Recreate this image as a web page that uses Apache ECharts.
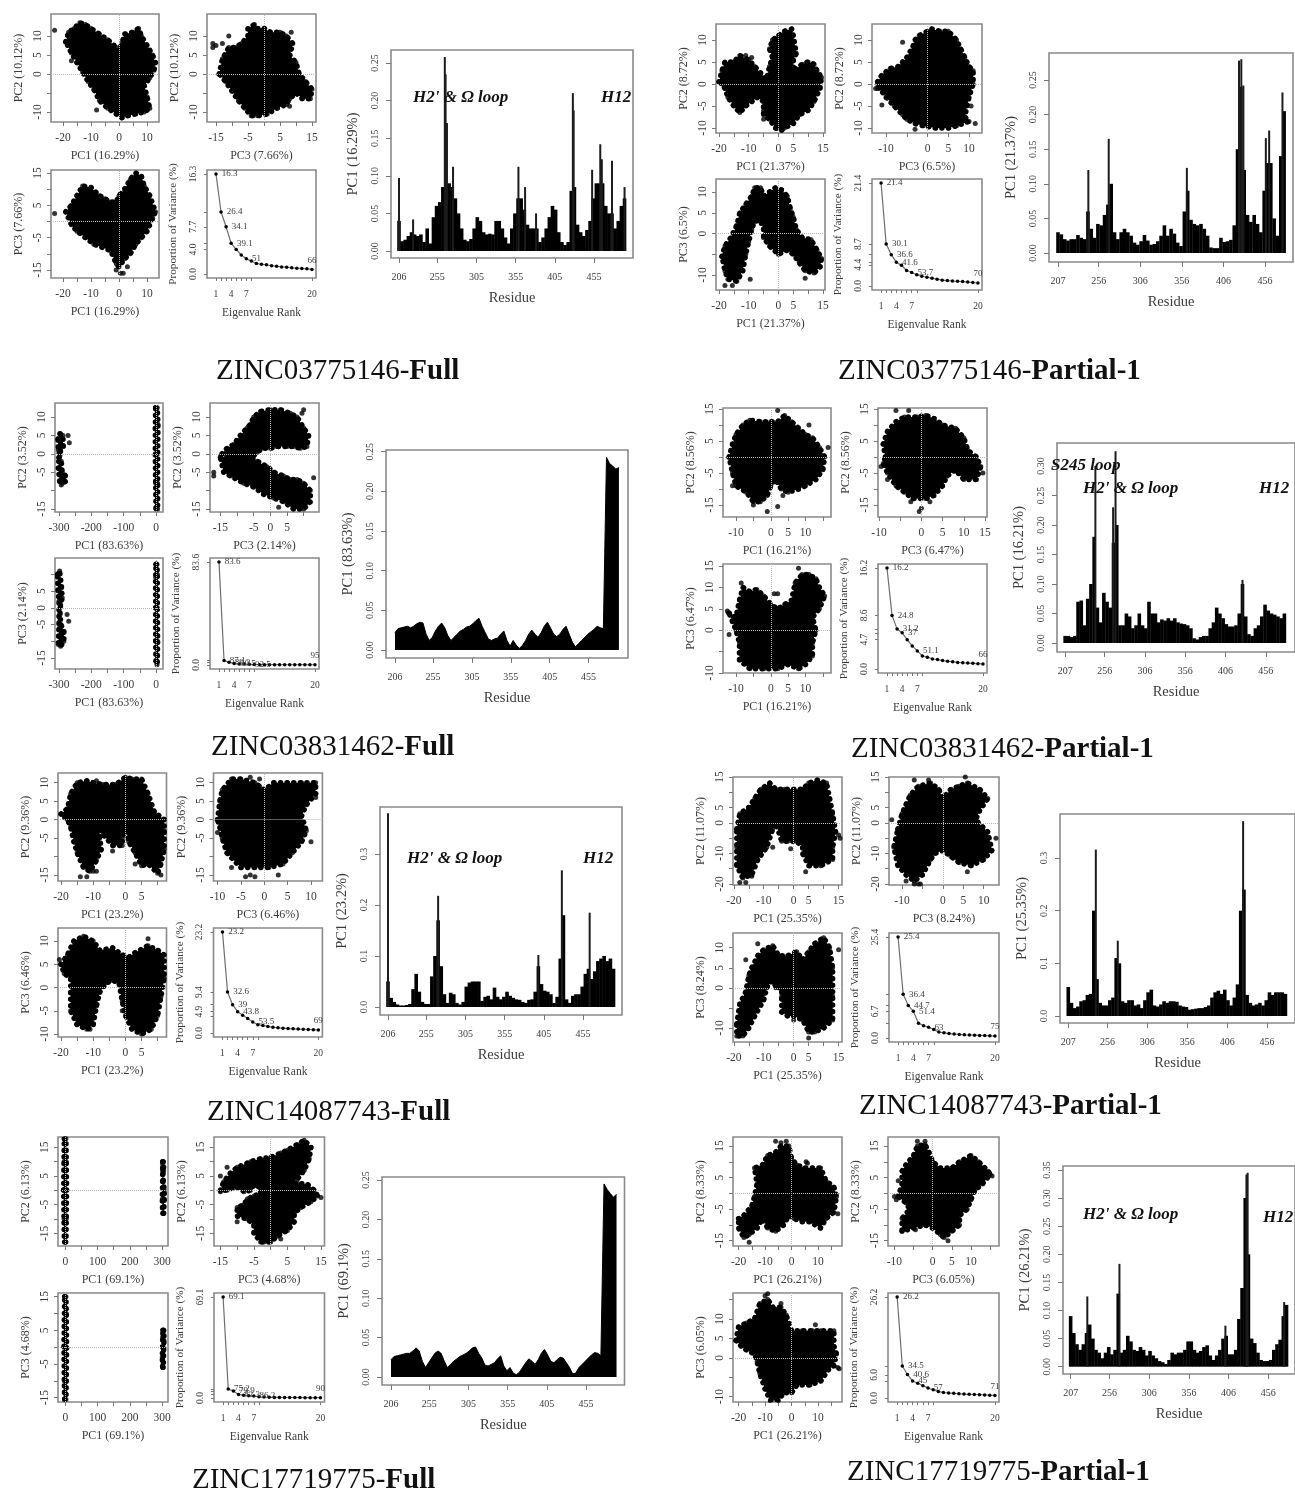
<!DOCTYPE html>
<html><head><meta charset="utf-8"><title>PCA panels</title>
<style>html,body{margin:0;padding:0;background:#fff;overflow:hidden}#c{width:1295px;height:1489px;filter:blur(.6px)}</style>
<script src="https://cdn.jsdelivr.net/npm/echarts@6/dist/echarts.min.js"></script></head>
<body><div id="c"></div>
<script>
// ---- scatter clouds: outlines and stray points, in data units ----
const a12=[[-19,8.5],[-18,11],[-16,12],[-14,13.5],[-12,13],[-10,12],[-7,10.5],[-4,9],[-1,7],[0,6],[1,8],[2,10.5],[5,11],[7,12],[8,10],[10,7.5],[12,5],[13,3],[12.5,1],[11,-1],[9,-3],[10,-6],[11,-9],[9,-10],[6,-10.5],[3,-11],[1,-11.5],[-1,-10.5],[-4,-9],[-7,-7],[-9,-4],[-11,-2],[-13,.5],[-15,3],[-17,5.5]];
const a12s=[[-23,11.5],[-8,-9.5],[-17,3.5]];
const a32=[[-14,0],[-13,4],[-11,7],[-9,7],[-7,8],[-5,10],[-5,12],[-3,13],[-2,12],[0,12],[2,11],[5,11],[7,10],[9,8],[8,5],[10,3],[11,0],[13,-2],[15,-4],[14.5,-6.5],[12,-6.5],[10,-5],[8,-6.5],[7,-8],[4,-9],[1,-10.5],[-2,-11],[-4,-11],[-6,-9],[-8,-7],[-10,-4.5],[-12,-2]];
const a32s=[[-16,8],[-15,7.5],[-16,7],[-13,8],[-11,10],[8,-8.5],[8.5,11],[6.5,-7]];
const a13=[[-19,3],[-17,5],[-15,8],[-13,11],[-10,10.5],[-7,8],[-5,7],[-3,6],[-1,6],[0,8],[2,10],[4,13],[6,15],[8,14],[9,11],[11,8],[13,3],[12,1],[10,-3],[8,-5],[6,-7],[4,-10],[2,-11.5],[0,-14],[-1,-13],[-3,-9],[-6,-8],[-9,-7],[-12,-5],[-15,-3],[-17,-1]];
const a13s=[[-23,2.5],[.5,-16],[1.5,-16],[3,-14],[-1,-15]];

const b12=[[[-303,4],[-298,5.5],[-288,5],[-287,2],[-295,1],[-297,-.5],[-302,1]],[[-300,-1],[-293,-2],[-290,-5],[-280,-6],[-280,-7.5],[-290,-8],[-298,-7.5],[-302,-4]],[[-1,12.5],[4,12.5],[6,8],[5,0],[5,-8],[5,-15],[0,-15],[-1,-8],[-2,0],[-2,7]]];
const b12s=[[-272,5],[-268,3],[-293,-8.5]];
const b32=[[[-14.5,0],[-13,1.5],[-11,2.5],[-9,5],[-7,7],[-6,8],[-5,10],[-3,11.5],[0,12],[3,12],[6,11],[8,10],[10,7],[11.5,5],[11,2],[9,1.5],[7,2],[5,2],[2,2],[0,1.5],[-2,1.5],[-4,.5],[-5,-.5],[-8,-.5],[-10,-.5],[-12,-.5]],[[-15,-1],[-12,-.5],[-9,-.5],[-6,-1],[-4,-2],[-1,-3.5],[1,-5],[4,-6],[6,-7],[8,-7],[10,-8],[12,-10],[12,-13],[10,-15],[7,-15],[4,-13],[1,-12],[-2,-11],[-5,-9],[-8,-8],[-12,-6],[-14,-5]]];
const b32s=[[-17,-6],[-17,-5],[9.5,11],[10,12],[13,-6.5],[2.5,-14.5]];
const b13=[[[-304,10],[-298,11],[-292,6],[-290,3],[-295,1],[-297,-2],[-294,-5],[-285,-7],[-285,-10],[-295,-11.5],[-302,-11],[-300,-5],[-300,2],[-303,5]],[[0,13],[3,13],[4,10],[4,0],[5,-10],[4,-16],[3,-17],[0,-16],[-1,-10],[-1,0],[-1,9]]];
const b13s=[[-275,-2],[-270,-4]];

const c12=[[-20,.5],[-19,3],[-18,5],[-15,5],[-13,6.5],[-10,5.5],[-8,4],[-6,2.5],[-4,1],[-3,4],[-2,6],[-3,8],[-2,10],[0,11],[2,12],[4.5,12.5],[5,11],[6,7],[5,5.5],[5,3],[8,4.5],[10,5],[12,4.5],[13,3],[14.5,1.5],[14,-1],[12,-4],[10,-6],[7,-7],[5,-9],[2,-10],[1,-10.5],[-1,-10],[-3,-8],[-5,-7],[-5,-4],[-7,-3],[-9,-4],[-11,-5],[-13,-6.5],[-15,-5],[-17,-3],[-18,-1],[-19,0]];
const c12s=[[-11,6.5],[-9,6],[-5,-6],[-5,-8]];
const c32=[[-12,.5],[-11,2],[-9,3.5],[-7,4],[-5,6],[-3.5,8.5],[-3,10],[-2,11],[0,12],[1,12.5],[3,12],[5,12],[7,10],[8,8],[9,6],[10,4],[11,3],[11,0],[10,-3],[9.5,-5],[9,-7.5],[10,-8.5],[7,-9.5],[5,-10],[2,-10],[-1,-9.5],[-3,-9],[-5,-8],[-6,-7],[-8,-5],[-10,-3],[-11.5,-1]];
const c32s=[[-12,0],[-12.5,-1],[-12,-1],[-11,-4.8],[-6,9.5],[-3,-10.3],[11.5,-9],[10.5,-5]];
const c13=[[-19,-5.5],[-18,-3],[-16,-1],[-14,2],[-13,5],[-11,7],[-9,9],[-8,11],[-6,11],[-5,9],[-3,10],[-1,11],[1,10.5],[3,9],[4,6],[5,4],[6,1],[8,-1],[11,-1.5],[13,-4],[14.5,-6],[14,-8],[12,-9.5],[9,-9],[7,-7],[5,-5],[3,-4],[0,-5],[-3,-3],[-5,-1],[-5,1],[-6,3],[-8,3],[-9,1],[-10,-2],[-11,-5],[-12,-9],[-14,-11.5],[-17,-11],[-18,-9]];
const c13s=[[-18,-12.5],[-15.5,-12.5],[-9.5,-11],[9,-10.8],[-2.5,-3.3],[-2.5,-2]];

const d12=[[-12,0],[-11,4],[-10,7],[-8,10],[-6,11.5],[-3,11],[0,11],[2,11],[4,13],[6,11],[8,9],[10,7],[12,6],[14,3],[15.5,0],[15,-4],[13,-7],[10,-9],[8,-10],[5,-11],[3,-10],[2,-8],[1,-7],[0,-9],[-1,-12],[-3,-14],[-5,-14],[-7,-11],[-10,-9],[-11,-5]];
const d12s=[[2,14.5],[-1,-17],[-5,-15],[2,-15.5],[-11,-9],[16.5,3],[11,10],[3.5,-12]];
const d32=[[-8.5,0],[-9,4],[-8,8],[-6,11],[-4,12.5],[-1,12.5],[1,13],[3,12],[5,10],[8,9],[10,6],[11,2],[13,0],[14,-3],[13,-7],[10,-7],[8,-4],[6,-6],[5,-9],[3,-12],[1,-13],[-2,-13],[-4,-11],[-6,-9],[-8,-5],[-9,-2]];
const d32s=[[-6,14.5],[-3,14.5],[-8,-7],[-2.5,-14],[0,-16],[-.5,-17],[2,-14],[9.5,-5],[-9.5,-3],[14.5,-5]];
const d13=[[-12,4],[-10,3],[-9,7],[-8,10],[-6,9],[-4,9.5],[-2,8],[0,6],[2,5],[4,6],[6,7],[7,11],[9,13],[11,13],[13,12],[14,10],[15.5,8],[14,5],[12,3],[13,0],[12,-3],[12,-6],[10,-8],[8,-9],[5,-8],[2,-9],[-2,-9],[-6,-9],[-9,-7],[-9,-3],[-10,0],[-11,2]];
const d13s=[[-12,-1],[8,14.5],[1,8.5],[2,8.5],[-8.5,11],[-12.5,4.5]];

const e12=[[-20,1.5],[-18,3],[-17,7],[-15,10],[-12,10.5],[-10,10],[-7,9.5],[-3,9.5],[0,11.5],[2,11],[5,11],[7,7],[9,2],[12,0],[12,-3],[12,-8],[11,-12],[10,-14.5],[7,-12],[5,-12.5],[3,-9],[1,-6],[0,-2],[-1,-5],[-1,-7],[-4,-7],[-7,-4],[-8,-2],[-8,-5],[-7.5,-8],[-9,-11],[-11,-14],[-13,-13],[-15,-9],[-16,-6],[-17,-2],[-18,0]];
const e12s=[[-12,-15.5],[-14,-15.5],[-9,-14],[-10,-14],[-4,-8.5],[3,-12],[11,-15],[-9,10.5]];
const e32=[[-10,0],[-9.5,5],[-9,8],[-7,11],[-5,11],[-2,10],[-1,9],[0,8],[2,10],[5,10],[8,10],[11,10],[11,7],[9,4],[8,1],[9,-3],[8,-6],[6,-9],[4,-12],[1,-13],[-2,-13],[-5,-13],[-8,-9],[-9,-5],[-9.5,-2]];
const e32s=[[-3,11.5],[-1,11],[-7,-13],[-4,-15.5],[-3,-15],[-2,-15.5],[3,-15],[10,-6],[11,6],[-10,-3.5]];
const e13=[[-20,5],[-18,7],[-16,10],[-13,11],[-10,10],[-8,8],[-4,8.5],[-1,7],[1,6.5],[3,7.5],[7,9],[10,8],[12,7],[12,2],[11,-2],[10,-6],[8,-9],[5,-10],[2,-9],[0,-6],[-1,-3],[-2,1],[-4,1.5],[-6,1],[-8,-1],[-9,-4],[-10,-8],[-12,-9],[-15,-8],[-17,-5],[-17,-1],[-17,2],[-19,3]];
const e13s=[[-20.5,6],[-11,-9],[7,10.5],[-1,-5],[-1,-2]];

const f12=[[-19,-2],[-18,3],[-15,5],[-13,8],[-11,11],[-8,13],[-6,11],[-3,11],[0,11],[3,11],[5,13],[8,14],[11,13],[12,8],[13,3],[14,-3],[13,-8],[13,-12],[9,-14],[5,-14],[3,-10],[3,-8],[1,-6],[-2,-6],[-4,-6],[-6,0],[-7,-2],[-9,-8],[-12,-12],[-14,-17],[-17,-18],[-19,-14],[-19,-8]];
const f12s=[[-18,-19.5],[-16,-19.5],[4,-16],[-7,-8],[-1,-8.5],[15,-4],[15.5,-5],[-14,-17.5]];
const f32=[[-11,-2],[-10,3],[-9,6],[-8,9],[-6,12],[-3,13],[-1,11],[0,8],[2,11],[4,12],[6,13],[9,11],[11,8],[9,4],[8,1],[11,-3],[12,-9],[10,-12],[7,-14],[4,-13],[2,-11],[0,-9],[-2,-10],[-3,-12],[-5,-17],[-7,-19],[-9,-17],[-11,-14],[-12,-8]];
const f32s=[[-12.5,1],[-6,-20],[-7,-20],[-5.5,-20],[-9,-19],[6,-16],[13,-5],[-7,14],[-3.5,14],[-11,-5],[5.5,15]];
const f13=[[-19,-9],[-18,-4],[-16,-1],[-15,3],[-14,5],[-12,8],[-10,9.5],[-7,10.5],[-5,8],[-2,8],[1,9],[3,7],[5,9],[7,11],[10,12.5],[12,10],[13,5],[13,-2],[13,-8],[10,-10],[7,-11],[5,-11],[3,-8],[0,-7],[-2,-7],[-4,-6],[-4,-2],[-4,0],[-6,0],[-6.5,1.5],[-8,1.5],[-9,0],[-10,-3],[-13,-7],[-15,-10],[-17,-12],[-19,-12]];
const f13s=[[-16,7],[-12,11],[5,-12.5],[15,9.5],[0,-8]];

const g12=[[-20,-8],[-18,-7],[-15,-4],[-14,-1],[-13,3],[-14,8],[-11,9],[-9,12],[-6,13],[-4,15],[-1,15],[0,11],[2,9],[5,8],[8,8],[11,8],[13,4],[16,2],[17,-1],[16,-6],[13,-8],[11,-11],[7,-9],[4,-9],[1,-8],[-1,-7],[-3,-10],[-6,-12],[-9,-11],[-11,-8],[-13,-11],[-16,-13],[-18,-14],[-20,-11]];
const g12s=[[-6,16.5],[-2,16.5],[-16,-15.5],[17.5,-6.5],[6,9.5],[-4,16],[5.5,10]];
const g32=[[-9,-1],[-8,3],[-8,7],[-7,9],[-5,12],[-4,15],[-2,15.5],[-1,13],[0,10],[2,8],[5,8],[7,10],[10,12],[12,10],[14.5,7],[15,6],[13,3],[11,1],[10,-2],[9,-5],[7,-7],[7,-10],[5,-12],[3,-14],[2,-13],[0,-11],[-2,-10],[-5,-11],[-8,-12],[-8,-8],[-6,-5],[-7,-3]];
const g32s=[[-10,-1],[-9.5,-2],[-9,4],[-4,16.5],[-2,16.5],[4,-15],[-8,-12],[15.5,5.5],[-4.5,-11.5]];
const g13=[[-21,4.5],[-20,8],[-17,9],[-14,10],[-12,14],[-9,15],[-7,13],[-4,13],[-2,11],[0,7],[4,7],[8,7],[11,7],[16,7],[16,3],[17,1],[16,-2],[14,-3],[11,-6],[7,-7],[2,-7],[0,-9],[-3,-9],[-5,-11],[-8,-11],[-10,-8],[-12,-4],[-13,-1],[-14,1],[-17,2],[-19,3]];
const g13s=[[-10,16],[-9,16.5],[-4,14],[9,8.5],[17.5,-2.5],[18,-2.8],[-7,-12]];

const h12=[[[-3,18],[2,18],[3,10],[4,0],[3,-10],[2,-18],[-3,-18],[-4,-10],[-5,0],[-4,10]],[[302,10],[305,10],[305,7],[303,6.5],[304,3],[307,0],[307,-3],[305,-8],[302,-8],[301,-3],[302,3],[302,7]]];
const h12s=[[302,9],[303,-8]];
const h32=[[-15,0],[-14,3],[-12,6],[-10,8],[-6,10],[-3,11],[0,11.5],[3,13],[5,14],[8,16],[10,17.5],[12,15],[11.5,11],[10,7],[8,4],[6,3],[5,0],[5,2.5],[8,2.5],[11,2],[13,0],[14,-2],[12,-4],[9,-6],[7,-8],[7,-11],[5,-14],[2,-16],[0,-18],[-3,-18],[-5,-15],[-5,-12],[-7,-10],[-10,-9],[-10,-6],[-8,-5],[-7,-3],[-5,-2],[-3,-1],[-3,1],[-5,2],[-6,0],[-8,-.5],[-9,1],[-11,1],[-13,0]];
const h32s=[[-15,-.5],[-15,5],[-13,8],[15,-2.5],[-10,-11],[-7,-7.5],[3,-17],[-2,-18]];
const h13=[[[-2,15],[2,15],[3,10],[4,0],[3,-10],[2,-15.5],[-2,-15.5],[-3,-10],[-4,0],[-3,8]],[[303,5],[306,5],[306,2],[305,-1],[304,-6],[302,-6],[301,-3],[302,0],[302,3]]];
const h13s=[[305,5],[303,-6]];

// ---- scree plots: percent variance per eigenvalue rank, with cumulative labels ----
const screeA=[16.3,10.1,7.7,5,4,3.1,2.5,2.1,1.7,1.6,1.5,1.35,1.25,1.15,1.1,1,.95,.9,.85,.75];
const screeB=[83.6,3.5,2.1,1.2,.8,.7,.5,.3,.2,.2,.15,.15,.15,.1,.1,.1,.1,.1,.1,.1];
const screeC=[21.4,8.7,6.5,4.9,4.3,3.2,2.8,2.3,2,1.8,1.6,1.4,1.2,1.1,1,.95,.9,.8,.7,.6];
const screeD=[16.2,8.6,6.4,5.8,4.7,3.7,2.9,2.1,1.9,1.6,1.5,1.35,1.25,1.15,1.05,1,.95,.9,.85,.8];
const screeE=[23.2,9.4,6.5,4.9,4.1,3.3,2.5,1.9,1.7,1.5,1.3,1.2,1.1,1,.95,.9,.85,.8,.75,.7];
const screeF=[25.4,11,8.2,6.7,3.7,3.1,2.7,2.1,1.5,1.3,1.1,1,.9,.8,.75,.7,.65,.6,.55,.5];
const screeG=[26.2,8.3,6.1,4.4,3.8,3.2,2.6,2.1,1.7,1.4,1.3,1.2,1.1,1,.95,.9,.85,.8,.7,.65];
const screeH=[69.1,6.1,4.7,2.4,1.9,1.6,1.3,.8,.6,.5,.4,.4,.3,.3,.3,.3,.2,.2,.2,.2];
const cumA={1:'16.3',2:'26.4',3:'34.1',4:'39.1',7:'51',20:'66'};
const cumB={1:'83.6',2:'87.1',3:'89.3',4:'90.5',7:'92.5',20:'95'};
const cumC={1:'21.4',2:'30.1',3:'36.6',4:'41.6',7:'53.7',20:'70'};
const cumD={1:'16.2',2:'24.8',3:'31.2',4:'37',7:'51.1',20:'66'};
const cumE={1:'23.2',2:'32.6',3:'39',4:'43.8',7:'53.5',20:'69'};
const cumF={1:'25.4',2:'36.4',3:'44.7',4:'51.4',7:'63',20:'75'};
const cumG={1:'26.2',2:'34.5',3:'40.6',4:'45',7:'57',20:'71'};
const cumH={1:'69.1',2:'75.2',3:'79.9',4:'82.3',7:'86.2',20:'90'};

// ---- residue plots: envelope sampled every 4 residues, plus the thin spikes as [residue, value] ----
const barA=[.04,.013,.015,.02,.025,.022,.02,.022,.012,.03,.01,.045,.06,.065,.085,.17,.09,.085,.07,.05,.03,.015,.013,.016,.03,.045,.04,.025,.022,.023,.022,.04,.04,.03,.018,.01,.03,.05,.07,.07,.055,.035,.03,.03,.03,.012,.018,.03,.045,.06,.055,.025,.012,.008,.012,.08,.085,.035,.025,.02,.028,.04,.07,.09,.09,.09,.06,.05,.05,.03,.04,.06,.07];
const spikeA=[[206,.097],[224,.042],[264.5,.258],[265.5,.235],[267,.17],[275,.112],[358.5,.112],[367,.085],[381,.05],[428,.21],[429,.187],[452.6,.108],[463,.142],[465,.122],[478,.12],[494,.085]];
const barB=[.022,.027,.028,.029,.03,.028,.03,.033,.035,.034,.02,.012,.016,.024,.03,.034,.028,.018,.012,.016,.02,.024,.026,.029,.03,.033,.037,.04,.03,.022,.014,.012,.014,.015,.02,.024,.012,.005,.012,.006,.002,.006,.012,.02,.025,.02,.016,.022,.03,.035,.028,.02,.017,.02,.026,.03,.02,.01,.004,.008,.012,.016,.02,.023,.026,.03,.028,.027,.243,.235,.232,.228,.23];
const spikeB=[];
const barC=[.03,.027,.02,.018,.02,.02,.026,.022,.02,.06,.035,.022,.042,.04,.055,.07,.1,.03,.02,.03,.035,.03,.025,.015,.012,.017,.026,.018,.012,.013,.017,.025,.04,.025,.035,.028,.015,.01,.06,.09,.048,.042,.04,.042,.035,.025,.008,.007,.007,.022,.016,.017,.019,.04,.15,.24,.12,.055,.045,.055,.042,.03,.09,.13,.13,.05,.025,.14,.205];
const spikeC=[[243.5,.12],[268,.165],[362,.123],[424.7,.278],[427.5,.28],[430,.242],[457,.166],[461,.177],[477,.232]];
const barD=[.012,.012,.01,.012,.07,.072,.03,.075,.1,.18,.06,.035,.085,.07,.06,.17,.2,.03,.03,.05,.045,.025,.03,.05,.03,.025,.07,.05,.05,.035,.04,.038,.042,.038,.042,.035,.033,.032,.03,.025,.008,.006,.01,.012,.012,.025,.035,.06,.05,.042,.032,.028,.028,.03,.05,.1,.045,.015,.012,.025,.03,.045,.065,.055,.05,.048,.045,.042,.05];
const spikeD=[[244.5,.3],[269.5,.325],[266.5,.23],[427,.107]];
const barE=[.05,.018,.01,.005,.003,.003,.004,.006,.035,.065,.03,.01,.006,.006,.06,.1,.17,.08,.025,.008,.028,.025,.008,.005,.01,.04,.048,.05,.05,.05,.012,.02,.022,.015,.038,.02,.015,.02,.03,.022,.018,.015,.014,.01,.008,.014,.015,.03,.08,.045,.032,.03,.025,.008,.02,.095,.18,.015,.008,.022,.025,.025,.04,.065,.075,.055,.07,.09,.095,.1,.09,.095,.075];
const spikeE=[[206,.38],[270,.218],[428,.268],[463.5,.185],[398,.102]];
const barF=[.055,.025,.015,.018,.028,.03,.04,.042,.2,.07,.025,.02,.02,.03,.035,.11,.1,.028,.025,.03,.03,.02,.022,.015,.03,.045,.05,.02,.018,.022,.028,.025,.028,.028,.027,.02,.018,.017,.012,.013,.014,.015,.015,.017,.02,.035,.045,.048,.042,.05,.03,.02,.035,.06,.2,.24,.04,.025,.02,.022,.025,.02,.03,.045,.04,.045,.045,.045,.042];
const spikeF=[[241.5,.316],[426,.37],[269,.143]];
const barG=[.09,.06,.04,.03,.04,.06,.075,.05,.03,.025,.015,.025,.035,.022,.03,.13,.025,.03,.055,.045,.03,.028,.035,.03,.02,.028,.02,.015,.01,.008,.005,.012,.025,.022,.025,.025,.03,.045,.045,.03,.025,.028,.035,.038,.02,.012,.02,.03,.05,.055,.022,.022,.03,.085,.14,.3,.2,.05,.042,.025,.012,.01,.01,.012,.03,.04,.048,.09,.11];
const spikeG=[[228,.125],[268.5,.183],[428.5,.342],[430,.345],[402,.073],[476,.115]];
const barH=[.022,.026,.027,.028,.029,.03,.03,.033,.037,.033,.02,.012,.018,.024,.03,.033,.03,.02,.012,.016,.02,.023,.026,.028,.03,.033,.037,.038,.03,.024,.015,.014,.016,.018,.023,.027,.014,.008,.012,.005,.003,.006,.012,.018,.023,.02,.016,.022,.03,.035,.028,.02,.018,.022,.025,.024,.018,.012,.004,.005,.012,.016,.02,.024,.028,.031,.03,.027,.245,.238,.233,.228,.232];
const spikeH=[];

const ticksFull=[206,255,305,355,405,455];
const ticksPartial=[207,256,306,356,406,456];

// ---- layout of each of the eight figures: [left, top, right, bottom] boxes and [px, value, px, value] axis calibration ----
const panels=[
{id:'A',pc:['PC1 (16.29%)','PC2 (10.12%)','PC3 (7.66%)'],
 tl:[51,14,159,122],tr:[207,14,316,122],bl:[51,170,159,278],br:[207,170,316,278],bar:[391,50,633,258],
 x1:{cal:[63,-20,147,10],t:[-20,10,5],l:[-20,-10,0,10]},y2:{cal:[112,-10,36,10],t:[-10,10,5],l:[-10,0,5,10]},
 x3:{cal:[216,-15,312,15],t:[-15,15,5],l:[-15,-5,5,15]},y3:{cal:[270,-15,173,15],t:[-15,15,5],l:[-15,-5,5,15]},
 s12:[a12],d12:a12s,s32:[a32],d32:a32s,s13:[a13],d13:a13s,scree:screeA,cum:cumA,stk:[0,4,5,7.7,10.1,16.3],slb:[0,4,7.7,16.3],
 bx:ticksFull,bxCal:[399,206,594,455],byCal:[251,0,63,.25],by:[0,.05,.1,.15,.2,.25],dec:2,bars:barA,start:206,spikes:spikeA},
{id:'B',pc:['PC1 (83.63%)','PC2 (3.52%)','PC3 (2.14%)'],area:true,
 tl:[55,403,163,512],tr:[210,403,319,512],bl:[55,558,163,669],br:[210,558,319,669],bar:[386,450,628,658],
 x1:{cal:[59,-300,156,0],t:[-300,0,50],l:[-300,-200,-100,0]},y2:{cal:[509,-15,417,10],t:[-15,10,5],l:[-15,-5,0,5,10]},
 x3:{cal:[220.4,-15,287,5],t:[-15,10,5],l:[-15,-5,0,5]},y3:{cal:[658,-15,591,5],t:[-15,10,5],l:[-15,-5,0,5]},
 s12:b12,d12:b12s,s32:b32,d32:b32s,s13:b13,d13:b13s,scree:screeB,cum:cumB,stk:[0,2.1,3.5,83.6],slb:[0,83.6],
 bx:ticksFull,bxCal:[395,206,588.6,455],byCal:[650,0,451.7,.25],by:[0,.05,.1,.15,.2,.25],dec:2,bars:barB,start:206,spikes:spikeB},
{id:'C',pc:['PC1 (21.37%)','PC2 (8.72%)','PC3 (6.5%)'],
 tl:[716,24,825,133],tr:[872,24,982,133],bl:[716,179,825,290],br:[872,179,982,290],bar:[1049,53,1293,262],
 x1:{cal:[719,-20,823,15],t:[-20,15,5],l:[-20,-10,0,5,15]},y2:{cal:[128,-10,40,10],t:[-10,10,5],l:[-10,-5,0,5,10]},
 x3:{cal:[886,-10,969,10],t:[-10,10,5],l:[-10,0,5,10]},y3:{cal:[275,-10,192,10],t:[-10,10,5],l:[-10,0,5,10]},
 s12:[c12],d12:c12s,s32:[c32],d32:c32s,s13:[c13],d13:c13s,scree:screeC,cum:cumC,stk:[0,4.4,5,6.5,8.7,21.4],slb:[0,4.4,8.7,21.4],
 bx:ticksPartial,bxCal:[1058,207,1265,456],byCal:[253,0,80,.25],by:[0,.05,.1,.15,.2,.25],dec:2,bars:barC,start:207,spikes:spikeC},
{id:'D',pc:['PC1 (16.21%)','PC2 (8.56%)','PC3 (6.47%)'],
 tl:[723,408,831,517],tr:[878,408,987,517],bl:[723,564,831,673],br:[878,564,987,673],bar:[1057,443,1302,652],
 x1:{cal:[736,-10,805.5,10],t:[-10,15,5],l:[-10,0,5,10]},y2:{cal:[505,-15,409,15],t:[-15,15,5],l:[-15,-5,5,15]},
 x3:{cal:[879,-10,985,15],t:[-10,15,5],l:[-10,0,5,10,15]},y3:{cal:[673,-10,566,15],t:[-10,15,5],l:[-10,0,5,10,15]},
 s12:[d12],d12:d12s,s32:[d32],d32:d32s,s13:[d13],d13:d13s,scree:screeD,cum:cumD,stk:[0,4.7,5.8,6.4,8.6,16.2],slb:[0,4.7,8.6,16.2],
 bx:ticksPartial,bxCal:[1065.4,207,1272,456],byCal:[643,0,466,.3],by:[0,.05,.1,.15,.2,.25,.3],dec:2,bars:barD,start:207,spikes:spikeD},
{id:'E',pc:['PC1 (23.2%)','PC2 (9.36%)','PC3 (6.46%)'],
 tl:[58,773,166.5,881],tr:[213.5,773,322.4,881],bl:[58,928,166.5,1037],br:[213.5,928,322.4,1037],bar:[380,807,622,1015],
 x1:{cal:[61,-20,141.6,5],t:[-20,10,5],l:[-20,-10,0,5]},y2:{cal:[875,-15,782.7,10],t:[-15,10,5],l:[-15,-5,0,5,10]},
 x3:{cal:[217.5,-10,311,10],t:[-10,10,5],l:[-10,-5,0,5,10]},y3:{cal:[1034,-10,941,10],t:[-10,10,5],l:[-10,-5,0,5,10]},
 s12:[e12],d12:e12s,s32:[e32],d32:e32s,s13:[e13],d13:e13s,scree:screeE,cum:cumE,stk:[0,3.9,4.9,6.5,9.4,23.2],slb:[0,4.9,9.4,23.2],
 bx:ticksFull,bxCal:[388,206,583,455],byCal:[1007,0,854,.3],by:[0,.1,.2,.3],dec:1,bars:barE,start:206,spikes:spikeE},
{id:'F',pc:['PC1 (25.35%)','PC2 (11.07%)','PC3 (8.24%)'],
 tl:[733,777,842,885],tr:[889,777,999,885],bl:[733,933,842,1042],br:[889,933,999,1042],bar:[1060,814,1304,1023],
 x1:{cal:[733.8,-20,838.6,15],t:[-20,15,5],l:[-20,-10,0,5,15]},y2:{cal:[884,-20,777,15],t:[-20,15,5],l:[-20,-10,0,5,15]},
 x3:{cal:[902,-10,983.7,10],t:[-10,10,5],l:[-10,0,5,10]},y3:{cal:[1028,-10,947.7,10],t:[-10,10,5],l:[-10,0,5,10]},
 s12:[f12],d12:f12s,s32:[f32],d32:f32s,s13:[f13],d13:f13s,scree:screeF,cum:cumF,stk:[0,3.7,6.7,8.2,11,25.4],slb:[0,6.7,25.4],
 bx:ticksPartial,bxCal:[1068.6,207,1275,456],byCal:[1016,0,858,.3],by:[0,.1,.2,.3],dec:1,bars:barF,start:207,spikes:spikeF},
{id:'H',pc:['PC1 (69.1%)','PC2 (6.13%)','PC3 (4.68%)'],area:true,
 tl:[58,1137,168,1246],tr:[214,1137,324.5,1246],bl:[58,1293,168,1402],br:[214,1293,324.5,1402],bar:[382,1177,624.5,1385],
 x1:{cal:[65.3,0,162,300],t:[0,300,50],l:[0,100,200,300]},y2:{cal:[1233.3,-15,1147.3,15],t:[-15,15,5],l:[-15,-5,5,15]},
 x3:{cal:[220.4,-15,321,15],t:[-15,15,5],l:[-15,-5,5,15]},y3:{cal:[1397.7,-15,1296.7,15],t:[-15,15,5],l:[-15,-5,5,15]},
 s12:h12,d12:h12s,s32:[h32],d32:h32s,s13:h13,d13:h13s,scree:screeH,cum:cumH,stk:[0,2.4,4.7,6.1,69.1],slb:[0,69.1],
 bx:ticksFull,bxCal:[391,206,586,455],byCal:[1377,0,1180,.25],by:[0,.05,.1,.15,.2,.25],dec:2,bars:barH,start:206,spikes:spikeH},
{id:'G',pc:['PC1 (26.21%)','PC2 (8.33%)','PC3 (6.05%)'],
 tl:[733,1137,842,1246],tr:[888,1137,999,1246],bl:[733,1293,842,1402],br:[888,1293,999,1402],bar:[1063,1166,1306,1374],
 x1:{cal:[738.6,-20,818,10],t:[-20,15,5],l:[-20,-10,0,10]},y2:{cal:[1240.7,-15,1146,15],t:[-15,15,5],l:[-15,-5,5,15]},
 x3:{cal:[894.4,-10,971,10],t:[-10,15,5],l:[-10,0,5,10]},y3:{cal:[1396.7,-10,1319,10],t:[-10,15,5],l:[-10,0,5,10]},
 s12:[g12],d12:g12s,s32:[g32],d32:g32s,s13:[g13],d13:g13s,scree:screeG,cum:cumG,stk:[0,4.4,6,8.3,26.2],slb:[0,6,26.2],
 bx:ticksPartial,bxCal:[1071,207,1278,456],byCal:[1366.7,0,1170,.35],by:[0,.05,.1,.15,.2,.25,.3,.35],dec:2,bars:barG,start:207,spikes:spikeG}
];

const captions=[
['ZINC03775146-','Full',216,369],['ZINC03775146-','Partial-1',838,369],
['ZINC03831462-','Full',211,745],['ZINC03831462-','Partial-1',851,747],
['ZINC14087743-','Full',207,1110],['ZINC14087743-','Partial-1',859,1104],
['ZINC17719775-','Full',192,1478],['ZINC17719775-','Partial-1',847,1470]];
const loopLabel="H2' & \u03A9 loop";
const notes=[[loopLabel,413,96],['H12',601,96],['S245 loop',1051,464],[loopLabel,1083,487],['H12',1259,487],
[loopLabel,407,857],['H12',583,857],[loopLabel,1083,1213],['H12',1263,1216]];

// ---- build ----
const SERIF='"Liberation Serif","Times New Roman",serif', INK='#3c3c3c', BOX='#8a8a8a';
const grids=[],xAxes=[],yAxes=[],series=[],graphics=[];
const seq=t=>{const o=[];for(let v=t[0];v<=t[1]+1e-9;v+=t[2])o.push(v);return o;};
const span=(a,b,cal)=>{const s=(cal[2]-cal[0])/(cal[3]-cal[1]);const p=q=>cal[1]+(q-cal[0])/s;return [p(a),p(b)];};
function axis(kind,gi,range,ticks,labels,o){
  const isY=kind==='y';
  return {type:'value',gridIndex:gi,min:range[0],max:range[1],position:isY?'left':'bottom',scale:true,
    name:o.name,nameLocation:'middle',nameGap:o.nameGap,
    nameTextStyle:{fontFamily:SERIF,fontSize:o.nameSize,color:INK},
    axisLine:{show:false,onZero:false},splitLine:{show:false},
    axisTick:{show:true,length:o.tick||4,customValues:ticks,lineStyle:{color:'#777',width:1}},
    axisLabel:{show:true,customValues:labels,rotate:isY?90:0,margin:o.margin,fontFamily:SERIF,fontSize:o.size,color:INK,hideOverlap:false,
      formatter:o.fmt||(v=>String(Math.round(v)))}};
}
function addGrid(box,xr,yr,xT,xL,yT,yL,xo,yo){
  const gi=grids.length;
  grids.push({left:box[0],top:box[1],width:box[2]-box[0],height:box[3]-box[1],show:true,borderColor:BOX,borderWidth:1.6,backgroundColor:'#fff',containLabel:false});
  xAxes.push(axis('x',gi,xr,xT,xL,xo));yAxes.push(axis('y',gi,yr,yT,yL,yo));
  return gi;
}
function cloud(box,xS,yS,xName,yName,polys,dots){
  const xr=span(box[0],box[2],xS.cal), yr=span(box[3],box[1],yS.cal);
  const gi=addGrid(box,xr,yr,seq(xS.t),xS.l,seq(yS.t),yS.l,
    {size:11.5,nameSize:12,margin:10,name:xName,nameGap:28},{size:11.5,nameSize:12,margin:7,name:yName,nameGap:26});
  const ax=xAxes.length-1, ay=yAxes.length-1;
  polys.forEach(poly=>series.push({type:'custom',xAxisIndex:ax,yAxisIndex:ay,silent:true,z:2,clip:true,data:[poly[0]],
    renderItem:(p,api)=>({type:'polygon',shape:{points:poly.map(q=>api.coord(q))},style:{fill:'#000',stroke:'#000',lineWidth:5.5,lineDash:[.1,6.5],lineCap:'round',lineJoin:'round'}})}));
  series.push({type:'scatter',xAxisIndex:ax,yAxisIndex:ay,symbolSize:5,silent:true,z:3,itemStyle:{color:'#000'},
    data:[].concat(...polys,dots),
    markLine:{silent:true,symbol:'none',label:{show:false},z:5,lineStyle:{type:'dotted',color:'#b9b9b9',width:1},data:[{xAxis:0},{yAxis:0}]}});
}
function screeChart(box,vals,cum,stk,slb){
  const m=vals[0];
  addGrid(box,[-.78,20.8],[-.04*m,1.04*m],[1,2,3,4,5,6,7,8,20],[1,4,7,20],stk,slb,
    {size:9.5,tick:3,margin:11,name:'Eigenvalue Rank',nameGap:29,nameSize:11.5},
    {size:9.5,tick:3,margin:9,name:'Proportion of Variance (%)',nameGap:28,nameSize:11.2,fmt:v=>v.toFixed(1)});
  series.push({type:'line',xAxisIndex:xAxes.length-1,yAxisIndex:yAxes.length-1,silent:true,symbol:'circle',symbolSize:3.5,showAllSymbol:true,z:3,
    lineStyle:{color:'#6e6e6e',width:1.2},itemStyle:{color:'#000'},
    data:vals.map((v,i)=>{const t=cum[i+1];return t?{value:[i+1,v],label:{show:true,formatter:t,position:i===19?'top':'right',distance:i===19?3:4,fontFamily:SERIF,fontSize:9,color:INK}}:[i+1,v];})});
}
function barChart(p){
  const b=p.bar, xr=span(b[0],b[2],p.bxCal), yr=span(b[3],b[1],p.byCal), dec=p.dec;
  addGrid(b,xr,yr,p.bx,p.bx,p.by,p.by,
    {name:'Residue',nameGap:33,nameSize:14.5,size:10,margin:14,tick:5},
    {name:p.pc[0],nameGap:30,nameSize:14.5,size:10,margin:11,tick:5,fmt:v=>v.toFixed(dec)});
  const gi=grids.length-1, ax=xAxes.length-1, ay=yAxes.length-1;
  const pts=p.bars.map((v,i)=>[p.start+i*4,v]);
  if(p.area){
    series.push({type:'line',xAxisIndex:ax,yAxisIndex:ay,silent:true,symbol:'none',z:3,lineStyle:{color:'#000',width:1},areaStyle:{color:'#000',opacity:1},data:pts});
  }else{
    series.push({type:'bar',xAxisIndex:ax,yAxisIndex:ay,silent:true,barWidth:3.6,z:3,itemStyle:{color:'#000'},data:pts});
  }
  if(p.spikes.length){
    xAxes.push({type:'value',gridIndex:gi,min:xr[0],max:xr[1],show:false,axisLine:{onZero:false}});
    series.push({type:'bar',xAxisIndex:xAxes.length-1,yAxisIndex:ay,silent:true,barWidth:2,z:4,itemStyle:{color:'#1c1c1c'},data:p.spikes});
  }
}
panels.forEach(p=>{
  cloud(p.tl,p.x1,p.y2,p.pc[0],p.pc[1],p.s12,p.d12);
  cloud(p.tr,p.x3,p.y2,p.pc[2],p.pc[1],p.s32,p.d32);
  cloud(p.bl,p.x1,p.y3,p.pc[0],p.pc[2],p.s13,p.d13);
  screeChart(p.br,p.scree,p.cum,p.stk,p.slb);
  barChart(p);
});
captions.forEach(c=>graphics.push({type:'text',left:c[2],top:c[3]-12,z:20,style:{
  text:'{n|'+c[0]+'}{b|'+c[1]+'}',rich:{n:{fontFamily:SERIF,fontSize:29,fill:'#111'},b:{fontFamily:SERIF,fontSize:29,fontWeight:'bold',fill:'#111'}}}}));
notes.forEach(n=>graphics.push({type:'text',left:n[1],top:n[2]-7,z:20,style:{
  text:n[0],fontFamily:SERIF,fontSize:17,fontStyle:'italic',fontWeight:'bold',fill:'#111'}}));

const chart=echarts.init(document.getElementById('c'),null,{renderer:'canvas'});
chart.setOption({animation:false,backgroundColor:'#fff',grid:grids,xAxis:xAxes,yAxis:yAxes,series:series,graphic:graphics});
</script></body></html>
